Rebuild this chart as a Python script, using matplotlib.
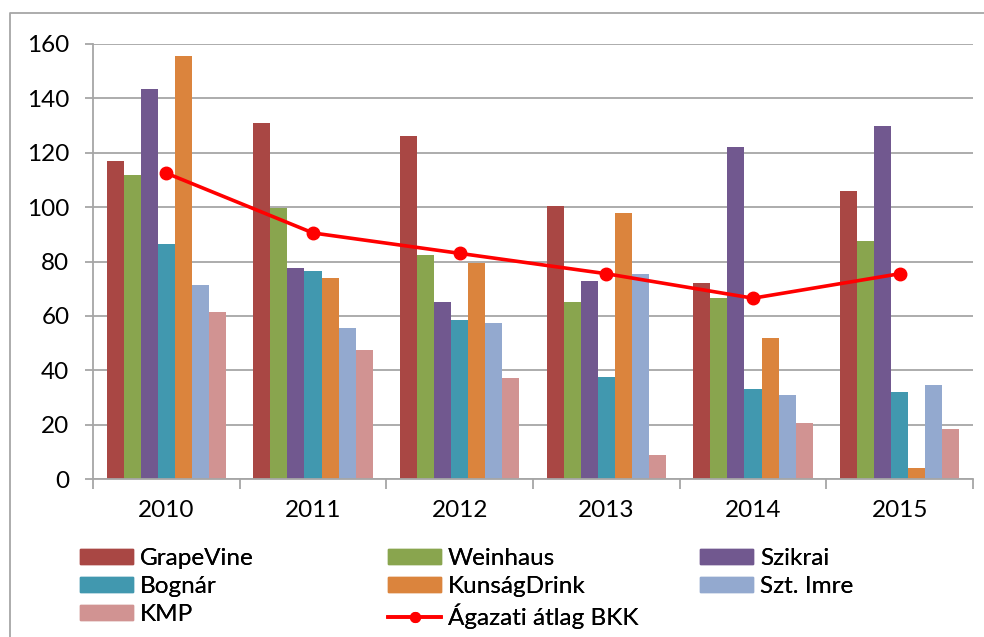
import numpy as np
import matplotlib.pyplot as plt
from matplotlib.lines import Line2D
from matplotlib.patches import Patch

years = ['2010', '2011', '2012', '2013', '2014', '2015']

grapevine = [117, 131, 126, 100.5, 72, 106]
weinhaus = [112, 99.5, 82.5, 65, 66.5, 87.5]
szikrai = [143.5, 77.5, 65, 73, 122, 130]
bognar = [86.5, 76.5, 58.5, 37.5, 33, 32]
kunsag = [155.5, 74, 79.5, 98, 52, 4]
sztimre = [71.5, 55.5, 57.5, 75.5, 31, 34.5]
kmp = [61.5, 47.5, 37, 9, 20.5, 18.5]
atlag = [112.5, 90.5, 83, 75.5, 66.5, 75.5]

names = ['GrapeVine', 'Weinhaus', 'Szikrai', 'Bognár', 'KunságDrink', 'Szt. Imre', 'KMP']
series = [grapevine, weinhaus, szikrai, bognar, kunsag, sztimre, kmp]
colors = ['#A94744', '#89A54E', '#71588F', '#4198AF', '#DB843D', '#93A9CF', '#D19392']
line_name = 'Ágazati átlag BKK'

plt.rcParams['font.family'] = ['Lato', 'DejaVu Sans']
fs = 17.5
grid_c = '#A6A6A6'

fig = plt.figure(figsize=(9.84, 6.37), dpi=100)
ax = fig.add_axes([93/984, 1-479/637, (973-93)/984, (479-44)/637])

x = np.arange(len(years))
w = 0.116
for i, (vals, c) in enumerate(zip(series, colors)):
    ax.bar(x + (i - 3) * w, vals, width=w, color=c, zorder=2)

ax.plot(x, atlag, color='#FF0000', lw=2.6, marker='o', ms=9, zorder=3)

ax.set_xlim(-0.5, len(years) - 0.5)
ax.set_ylim(0, 160)
ax.set_yticks(np.arange(0, 161, 20))
ax.yaxis.grid(True, color=grid_c, lw=1.3, zorder=0)
ax.set_axisbelow(True)
ax.set_xticks(x)
ax.set_xticklabels(years)
ax.set_xticks(np.arange(-0.5, len(years)), minor=True)
ax.tick_params(axis='x', which='major', length=0, pad=15, labelsize=fs)
ax.tick_params(axis='x', which='minor', length=7, color=grid_c, width=1.3)
ax.tick_params(axis='y', length=6, color=grid_c, width=1.3, pad=11, labelsize=fs)
for s in ['top', 'right']:
    ax.spines[s].set_visible(False)
for s in ['left', 'bottom']:
    ax.spines[s].set_color(grid_c)
    ax.spines[s].set_linewidth(1.3)

# legend, three columns like the Excel layout
handles = [Patch(color=c) for c in colors]
line_h = Line2D([], [], color='#FF0000', lw=2.6, marker='o', ms=7)
cols = [
    ([handles[0], handles[3], handles[6]], [names[0], names[3], names[6]], 80),
    ([handles[1], handles[4], line_h], [names[1], names[4], line_name], 388),
    ([handles[2], handles[5]], [names[2], names[5]], 700),
]
fpx = fs * 100 / 72
for hs, ls, xpx in cols:
    leg = fig.legend(hs, ls, loc='upper left', bbox_to_anchor=(xpx/984, 1-548/637),
                     frameon=False, fontsize=fs, borderpad=0, borderaxespad=0,
                     handlelength=53/fpx, handleheight=14/fpx, handletextpad=7/fpx,
                     labelspacing=0.28)
    fig.add_artist(leg)

# outer chart border
fig.add_artist(Line2D([10/984, 10/984, 1], [0, 1-13/637, 1-13/637],
                      transform=fig.transFigure, color=grid_c, lw=1.3))

fig.savefig('out.png', dpi=100)
